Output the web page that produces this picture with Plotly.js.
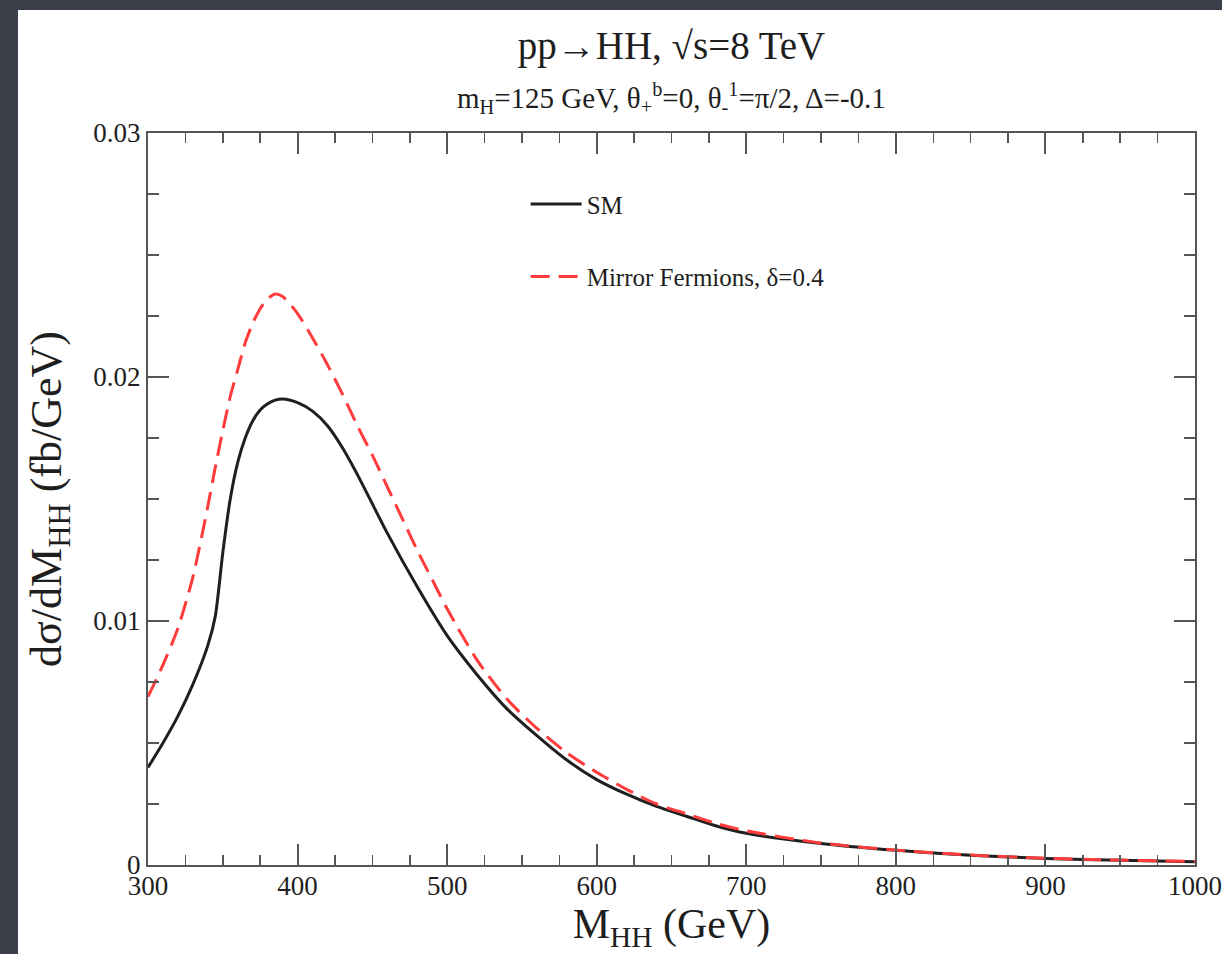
<!DOCTYPE html>
<html><head><meta charset="utf-8">
<script src="https://cdn.plot.ly/plotly-3.0.1.min.js"></script>
<style>
html,body{margin:0;padding:0;background:#3b3f4a;width:1222px;height:954px;overflow:hidden}
#chart{position:absolute;left:18px;top:10px;width:1204px;height:944px;background:#fff}
</style></head><body><div id="chart"></div>
<script>
// M_HH (GeV) sample points and dσ/dM_HH values (fb/GeV)
const massSM = [300,310,320,330,340,345,350,355,360,365,370,375,380,385,390,400,410,420,430,440,450,460,480,500,520,540,560,580,600,620,640,660,680,700,750,800,850,900,950,1000];
const sigmaSM = [0.0040,0.0050,0.0061,0.0074,0.0090,0.0102,0.0128,0.0150,0.0165,0.0175,0.0182,0.01865,0.0189,0.01905,0.0191,0.01895,0.0186,0.0180,0.0171,0.0160,0.0148,0.0136,0.0114,0.0094,0.0078,0.0064,0.0053,0.0043,0.0035,0.0029,0.0024,0.0020,0.0016,0.0013,0.00088,0.00060,0.00040,0.00027,0.00019,0.00013];

const massMF = [300,310,320,330,340,345,350,355,360,365,370,375,380,385,390,400,410,420,430,440,450,460,470,480,490,500,520,540,560,580,600,620,640,660,680,700,750,800,850,900,950,1000];
const sigmaMF = [0.0069,0.0082,0.0097,0.0118,0.0147,0.0163,0.0178,0.0192,0.0203,0.0214,0.0222,0.0228,0.0232,0.0234,0.0233,0.0226,0.0216,0.0205,0.0193,0.0180,0.0168,0.0155,0.0142,0.0129,0.0117,0.0105,0.0084,0.0068,0.0056,0.0046,0.0038,0.0031,0.0025,0.0021,0.0017,0.0014,0.00090,0.00061,0.00041,0.00028,0.00020,0.00015];

const seriesNames = ['SM', 'Mirror Fermions, δ=0.4'];
const xTickVals = [300,400,500,600,700,800,900,1000];
const xTickText = ['300','400','500','600','700','800','900','1000'];
const yTickVals = [0,0.01,0.02,0.03];
const yTickText = ['0','0.01','0.02','0.03'];

const FONT = 'Liberation Serif, Times New Roman, serif';
const TXT = '#1e1e1e';

const traces = [
  {x: massSM, y: sigmaSM, name: seriesNames[0], type: 'scatter', mode: 'lines', legendgroup: 'a',
   line: {color: '#1f1f1f', width: 3, shape: 'spline', smoothing: 0.7}},
  {x: massMF, y: sigmaMF, name: seriesNames[1], type: 'scatter', mode: 'lines', legendgroup: 'b',
   line: {color: '#ff3b3b', width: 3, dash: '19px,9px', shape: 'spline', smoothing: 0.7}}
];

const axisCommon = {
  showline: true, linecolor: '#555', linewidth: 2, mirror: 'ticks',
  ticks: 'inside', tickcolor: '#555', tickwidth: 2, ticklen: 21,
  showgrid: false, zeroline: false,
  tickfont: {family: FONT, size: 27, color: TXT}
};

const layout = {
  width: 1204, height: 944,
  paper_bgcolor: '#ffffff', plot_bgcolor: '#ffffff',
  margin: {l: 130, r: 27, t: 123, b: 89},
  showlegend: true,
  title: {text: 'pp→HH, √s=8 TeV', x: 0.5, xref: 'paper', xanchor: 'center',
          y: 1 - 35/944, yref: 'container', yanchor: 'middle',
          font: {family: FONT, size: 39, color: TXT}},
  xaxis: Object.assign({}, axisCommon, {
    range: [300, 1000], tickvals: xTickVals, ticktext: xTickText, ticklabelstandoff: -4,
    minor: {ticks: 'inside', dtick: 25, ticklen: 10, tickwidth: 1.5, tickcolor: '#555'},
    title: {text: 'M<sub>HH</sub> (GeV)', standoff: 6, font: {family: FONT, size: 42, color: TXT}}
  }),
  yaxis: Object.assign({}, axisCommon, {
    range: [0, 0.03], tickvals: yTickVals, ticktext: yTickText,
    minor: {ticks: 'inside', dtick: 0.0025, ticklen: 11, tickwidth: 1.5, tickcolor: '#555'},
    title: {text: 'dσ/dM<sub>HH</sub> (fb/GeV)', standoff: 18, font: {family: FONT, size: 44, color: TXT}}
  }),
  legend: {x: 0.3607, y: 0.934, xanchor: 'left', yanchor: 'top', bgcolor: 'rgba(0,0,0,0)',
           itemwidth: 51,
           font: {family: FONT, size: 25, color: TXT}, tracegroupgap: 37, traceorder: 'grouped'},
  annotations: [
    {text: 'm<sub>H</sub>=125 GeV, θ<sub>+</sub><sup>b</sup>=0, θ<sub>-</sub><sup>1</sup>=π/2, Δ=-0.1',
     xref: 'paper', yref: 'paper', x: 0.5, y: 1.048, xanchor: 'center', yanchor: 'middle',
     showarrow: false, font: {family: FONT, size: 29, color: TXT}}
  ]
};

Plotly.newPlot('chart', traces, layout, {displayModeBar: false, staticPlot: true});
</script></body></html>
